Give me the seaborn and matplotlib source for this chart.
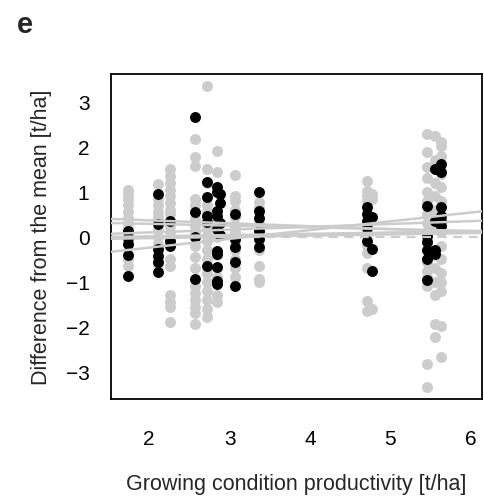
import pandas as pd
import matplotlib
matplotlib.use("Agg")
import matplotlib.pyplot as plt
import seaborn as sns

# Daten
# grau: alle Beobachtungen, schwarz: hervorgehobene Sorte
grey_x = ([1.74] * 12 + [2.11] * 11 + [2.26] * 16 + [2.57] * 17 + [2.72] * 16
          + [2.84] * 9 + [3.07] * 12 + [3.36] * 8 + [4.71] * 11 + [4.77] * 4
          + [5.46] * 17 + [5.55] * 12 + [5.63] * 15)
grey_y = [1.05, 0.95, 0.85, 0.7, 0.55, 0.42, 0.3, 0.2, 0.05, -0.15, -0.5, -0.65,
          1.18, 0.85, 0.7, 0.55, 0.45, 0.35, 0.15, 0.0, -0.15, -0.3, -0.6,
          1.5, 1.35, 1.2, 1.05, 0.9, 0.75, 0.6, 0.5, 0.25, 0.1, -0.5, -0.65, -1.3, -1.45, -1.55, -1.88,
          2.18, 1.78, 1.58, 0.84, 0.7, 0.4, 0.25, 0.1, -0.2, -0.45, -0.7, -1.1, -1.25, -1.4, -1.55, -1.7, -1.93,
          3.36, 1.51, 1.2, 0.7, 0.55, 0.2, 0.05, -0.1, -0.3, -0.5, -0.8, -1.0, -1.2, -1.4, -1.6, -1.78,
          1.91, 1.44, 0.3, 0.0, -0.4, -0.7, -0.9, -1.3, -1.45,
          1.38, 0.91, 0.8, 0.6, 0.45, 0.25, 0.1, -0.1, -0.3, -0.5, -0.7, -0.9,
          0.78, 0.65, 0.3, 0.15, -0.3, -0.64, -0.93, -1.0,
          1.24, 1.02, 0.9, 0.8, 0.3, 0.05, -0.2, -0.35, -0.7, -1.42, -1.64,
          0.95, 0.85, -0.75, -1.6,
          2.29, 1.89, 1.56, 1.3, 1.0, 0.8, 0.5, 0.3, 0.1, -0.1, -0.3, -0.55, -0.75, -0.9, -1.1, -2.82, -3.33,
          2.25, 1.7, 1.2, 0.9, 0.6, 0.2, -0.4, -0.7, -1.0, -1.3, -1.93, -2.22,
          2.12, 2.02, 1.8, 1.4, 1.1, 0.8, 0.5, 0.1, -0.2, -0.5, -0.8, -1.0, -1.2, -1.98, -2.67]

black_x = ([1.74] * 5 + [2.11] * 6 + [2.26] * 3 + [2.57] * 4 + [2.72] * 5
           + [2.84] * 10 + [2.88] * 4 + [3.07] * 5 + [3.36] * 6 + [4.71] * 5
           + [4.77] * 3 + [5.46] * 6 + [5.55] * 4 + [5.63] * 6)
black_y = [0.13, -0.02, -0.15, -0.4, -0.87,
           0.96, 0.29, -0.27, -0.42, -0.55, -0.78,
           0.36, -0.09, -0.2,
           2.67, 0.55, 0.0, -0.93,
           1.22, 0.89, 0.47, 0.33, -0.64,
           1.11, 1.0, 0.58, 0.47, 0.18, -0.31, -0.38, -0.67, -0.98, -1.04,
           0.96, 0.75, 0.3, 0.05,
           0.51, -0.04, -0.22, -0.56, -1.1,
           1.0, 0.58, 0.42, 0.13, -0.04, -0.22,
           0.67, 0.51, 0.35, 0.2, -0.09,
           0.45, -0.27, -0.76,
           0.69, 0.03, -0.12, -0.3, -0.49, -0.96,
           1.51, 0.36, -0.3, -0.38,
           1.62, 1.44, 0.67, 0.47, 0.36, 0.25]

# Regressionslinien: Werte am linken und rechten Rand
line_x = [1.525, 6.14]
line_start = [0.40, 0.31, 0.07, 0.0, -0.04, -0.33]
line_end = [0.10, 0.13, 0.36, 0.13, 0.09, 0.57]

x_ticks = [2, 3, 4, 5, 6]
y_ticks = [-3, -2, -1, 0, 1, 2, 3]

df_grey = pd.DataFrame({"x": grey_x, "y": grey_y})
df_black = pd.DataFrame({"x": black_x, "y": black_y})
rows = []
for i, (a, b) in enumerate(zip(line_start, line_end)):
    rows.append({"x": line_x[0], "y": a, "id": i})
    rows.append({"x": line_x[1], "y": b, "id": i})
df_lines = pd.DataFrame(rows)

sns.set_style("white")
plt.rcParams["font.family"] = ["Liberation Sans", "DejaVu Sans"]

grau = "#cccccc"

fig = plt.figure(figsize=(4.84, 5.02), dpi=100)
ax = fig.add_axes([111 / 484, 102 / 502, 371 / 484, 325 / 502])

sns.scatterplot(data=df_grey, x="x", y="y", color=grau, s=62, linewidth=0, ax=ax, zorder=2)
sns.scatterplot(data=df_black, x="x", y="y", color="black", s=62, linewidth=0, ax=ax, zorder=3)
sns.lineplot(data=df_lines, x="x", y="y", units="id", estimator=None, color=grau,
             linewidth=1.8, ax=ax, zorder=4)
ax.axhline(0, color=grau, linestyle=(0, (4, 3)), linewidth=1.6, zorder=4)

ax.set_xlim(line_x[0], line_x[1])
ax.set_ylim(-3.6, 3.62)
ax.set_xticks(x_ticks)
ax.set_yticks(y_ticks)
ax.tick_params(axis="both", direction="out", length=9.5, width=0.8, labelsize=15,
               color="black", labelcolor="black")
ax.tick_params(axis="x", pad=12)
ax.tick_params(axis="y", pad=6)
for s in ax.spines.values():
    s.set_color("black")
    s.set_linewidth(1.3)

ax.set_xlabel("Growing condition productivity [t/ha]", fontsize=15.5, labelpad=18)
ax.set_ylabel("Difference from the mean [t/ha]", fontsize=15.5, labelpad=10)

fig.text(0.035, 0.935, "e", fontsize=21, fontweight="bold")

fig.savefig("out.png", dpi=100)
